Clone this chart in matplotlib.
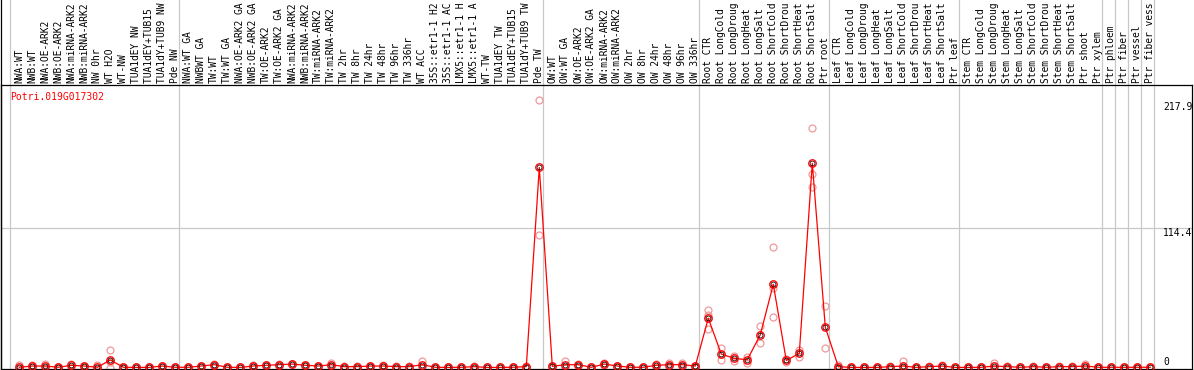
import numpy as np
import matplotlib
matplotlib.use("Agg")
import matplotlib.pyplot as plt
import matplotlib.transforms as mtransforms

# Dati
gene = "Potri.019G017302"

labels = [
    # gruppo 1
    "NWA:WT", "NWB:WT", "NWA:OE-ARK2", "NWB:OE-ARK2", "NWA:miRNA-ARK2",
    "NWB:miRNA-ARK2", "NW 0hr", "WT H2O", "WT-NW", "TUA1dEY NW",
    "TUA1dEY+TUB15 NW", "TUA1dY+TUB9 NW", "Pde NW",
    # gruppo 2
    "NWA:WT GA", "NWBWT GA", "TW:WT", "TW:WT GA", "NWA:OE-ARK2 GA",
    "NWB:OE-ARK2 GA", "TW:OE-ARK2", "TW:OE-ARK2 GA", "NWA:miRNA-ARK2 GA",
    "NWB:miRNA-ARK2 GA", "TW:miRNA-ARK2", "TW:miRNA-ARK2 GA", "TW 2hr", "TW 8hr",
    "TW 24hr", "TW 48hr", "TW 96hr", "TW 336hr", "WT ACC", "35S::etr1-1 H2O",
    "35S::etr1-1 ACC", "LMX5::etr1-1 H2O", "LMX5::etr1-1 ACC", "WT-TW",
    "TUA1dEY TW", "TUA1dEY+TUB15 TW", "TUA1dY+TUB9 TW", "Pde TW",
    # gruppo 3
    "OW:WT", "OW:WT GA", "OW:OE-ARK2", "OW:OE-ARK2 GA", "OW:miRNA-ARK2",
    "OW:miRNA-ARK2 GA", "OW 2hr", "OW 8hr", "OW 24hr", "OW 48hr", "OW 96hr",
    "OW 336hr",
    # radice
    "Root CTR", "Root LongCold", "Root LongDrought", "Root LongHeat",
    "Root LongSalt", "Root ShortCold", "Root ShortDrought", "Root ShortHeat",
    "Root ShortSalt", "Ptr root",
    # foglia
    "Leaf CTR", "Leaf LongCold", "Leaf LongDrought", "Leaf LongHeat",
    "Leaf LongSalt", "Leaf ShortCold", "Leaf ShortDrought", "Leaf ShortHeat",
    "Leaf ShortSalt", "Ptr leaf",
    # fusto
    "Stem CTR", "Stem LongCold", "Stem LongDrought", "Stem LongHeat",
    "Stem LongSalt", "Stem ShortCold", "Stem ShortDrought", "Stem ShortHeat",
    "Stem ShortSalt", "Ptr shoot", "Ptr xylem",
    # singoli
    "Ptr phloem", "Ptr fiber", "Ptr vessel", "Ptr fiber vessel",
]

# inizio di ogni gruppo (indice della categoria)
group_starts = [0, 13, 41, 53, 63, 73, 84, 85, 86, 87, 88]

mean = [
    1.4, 2.4, 2.4, 1.4, 3.0, 2.4, 1.4, 7.3, 1.4, 1.3, 1.3, 2.4, 1.4,
    1.4, 2.4, 3.5, 1.4, 1.3, 2.4, 3.0, 3.5, 4.0, 3.0, 2.4, 3.5, 1.9, 1.9,
    2.4, 2.4, 1.9, 1.9, 3.5, 1.4, 1.3, 1.4, 1.9, 1.3, 1.3, 1.4, 1.9, 163.2,
    2.2, 3.5, 3.5, 1.4, 4.0, 2.4, 1.4, 1.4, 3.0, 3.5, 3.5, 2.4,
    41.1, 12.1, 8.6, 7.5, 27.7, 68.6, 6.9, 12.7, 166.6, 33.9,
    1.9, 1.3, 1.3, 1.3, 1.9, 2.4, 1.3, 1.9, 2.4, 1.3,
    1.3, 1.4, 2.4, 1.9, 1.4, 1.9, 1.4, 1.9, 1.9, 2.4, 1.4,
    1.4, 1.4, 1.4, 1.4,
]

rep1 = [
    3.0, 3.5, 4.0, 1.8, 4.0, 2.8, 3.0, 15.4, 1.6, 1.5, 1.5, 2.8, 1.6,
    1.6, 2.8, 4.0, 1.6, 1.5, 3.5, 3.4, 3.9, 4.0, 3.4, 2.8, 4.6, 2.2, 2.2,
    2.8, 3.5, 2.2, 2.2, 6.2, 1.6, 1.5, 1.7, 2.2, 1.5, 1.5, 1.7, 2.2, 217.9,
    2.8, 6.2, 4.0, 1.6, 4.6, 2.8, 1.6, 1.6, 4.0, 4.6, 4.6, 2.8,
    47.8, 16.8, 10.5, 10.0, 34.6, 98.5, 7.9, 15.4, 194.9, 51.0,
    3.5, 1.5, 1.5, 1.5, 2.4, 6.2, 1.5, 2.2, 3.0, 1.5,
    1.5, 1.6, 4.6, 2.2, 1.6, 2.4, 1.6, 2.4, 2.4, 4.0, 1.6,
    1.6, 1.6, 1.6, 1.6,
]

rep2 = [
    0.2, 1.3, 0.8, 1.0, 2.0, 2.0, 0.2, 0.5, 1.2, 1.1, 1.1, 2.0, 1.2,
    1.2, 2.0, 3.0, 1.2, 1.1, 1.3, 2.6, 3.1, 4.0, 2.6, 2.0, 2.4, 1.6, 1.6,
    2.0, 1.3, 1.6, 1.6, 0.8, 1.2, 1.1, 1.1, 1.6, 1.1, 1.1, 1.1, 1.6, 108.5,
    1.6, 0.8, 3.0, 1.2, 3.4, 2.0, 1.2, 1.2, 2.0, 2.4, 2.4, 2.0,
    32.1, 7.3, 6.7, 5.0, 20.8, 41.9, 5.9, 10.0, 147.1, 16.8,
    0.3, 1.1, 1.1, 1.1, 1.4, 0.5, 1.1, 1.6, 1.8, 1.1,
    1.1, 1.2, 0.2, 1.6, 1.2, 1.4, 1.2, 1.4, 1.4, 0.8, 1.2,
    1.2, 1.2, 1.2, 1.2,
]

# terzo replicato solo dove presente
rep3 = {7: 6.0, 53: 43.4, 58: 65.3, 61: 157.7, 68: 0.5}

yticks = [0, 114.4, 217.9]

# Figura 1194x370 px
W, H = 1194, 370
f1 = plt.figure(figsize=(W / 100, H / 100), dpi=100)
ax = f1.add_axes([1 / W, 1 / H, 1191 / W, 284 / H])

x = np.arange(len(labels))
r3x = list(rep3.keys())
r3y = list(rep3.values())

pink = '#ee9a9a'
ax.plot(x, rep1, 'o', ms=5, mfc='none', mec=pink, mew=0.9, zorder=2)
ax.plot(x, rep2, 'o', ms=5, mfc='none', mec=pink, mew=0.9, zorder=2)
ax.plot(r3x, r3y, 'o', ms=5, mfc='none', mec=pink, mew=0.9, zorder=2)

ax.plot(x, mean, '-', color='red', lw=0.9, zorder=3)
ax.plot(x, mean, 'o', ms=3.6, mfc='none', mec='black', mew=0.6, zorder=4)
ax.plot(x, mean, 'o', ms=5.4, mfc='none', mec='red', mew=0.9, zorder=5)

ax.set_xlim(-1.41, 90.21)
ax.set_ylim(0, 230.0)
ax.set_xticks([])
ax.set_yticks([])
for s in ax.spines.values():
    s.set_linewidth(0.9)
    s.set_color('black')

# griglia
ax.axhline(114.4, color='#c8c8c8', lw=0.9, zorder=1)
for b in group_starts:
    ax.axvline(b - 0.715, 0, 1.3, color='#c8c8c8', lw=0.9, clip_on=False, zorder=1)
ax.axvline(-1.41, 0, 1.3, color='black', lw=0.9, clip_on=False)

# etichette ruotate (tagliate come nell'originale: max 14 caratteri)
for i, lab in enumerate(labels):
    ax.text(i, 1.007, lab[:14], transform=ax.get_xaxis_transform(), rotation=90,
            ha='center', va='bottom', fontsize=6.9, family='DejaVu Sans Mono',
            clip_on=False)

# titolo gene
f1.text(10 / W, 1 - 97 / H, gene, color='red', fontsize=7,
        family='DejaVu Sans Mono', ha='left', va='center')

# valori asse y
offs = {0: 5.0, 114.4: -3.8, 217.9: -5.0}
trans = mtransforms.blended_transform_factory(ax.transAxes, ax.transData)
for v in yticks:
    txt = ('%g' % v)
    ax.annotate(txt, (0.9757, v), xycoords=trans, xytext=(0, offs[v]),
                textcoords='offset points', fontsize=7,
                family='DejaVu Sans Mono', ha='left', va='center')

f1.savefig('out.png', dpi=100)
